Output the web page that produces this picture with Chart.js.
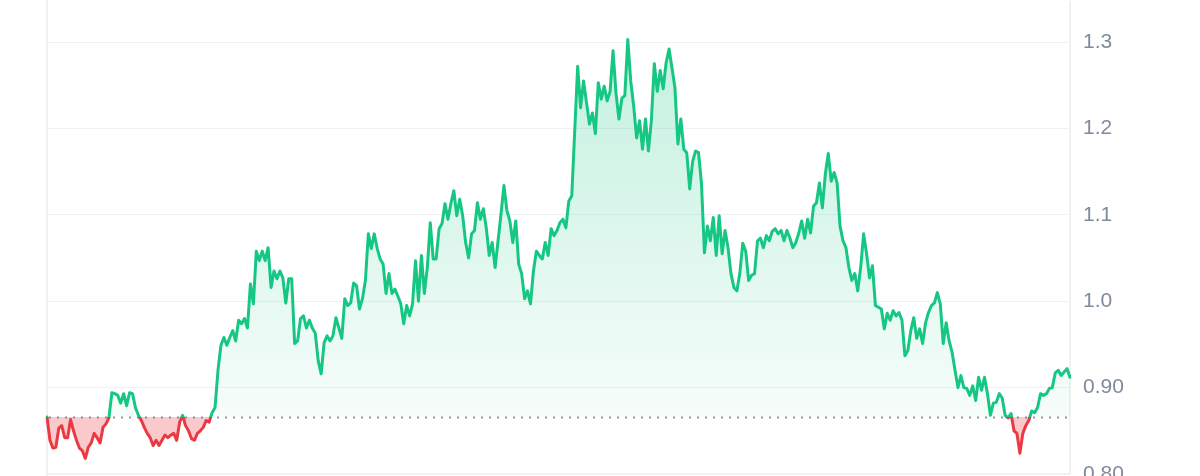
<!DOCTYPE html>
<html>
<head>
<meta charset="utf-8">
<script src="https://cdn.jsdelivr.net/npm/chart.js@4.4.1/dist/chart.umd.min.js"></script>
<style>
  html, body { margin: 0; padding: 0; background: #fff; }
</style>
</head>
<body>
<canvas id="priceChart" width="1200" height="476"></canvas>
<script>
// price history
const prices = [
  0.866, 0.839, 0.830, 0.831, 0.853, 0.856, 0.842, 0.842, 0.863, 0.850,
  0.839, 0.830, 0.827, 0.818, 0.831, 0.836, 0.847, 0.842, 0.836, 0.854,
  0.858, 0.865, 0.894, 0.893, 0.891, 0.882, 0.893, 0.879, 0.894, 0.893,
  0.877, 0.868, 0.862, 0.854, 0.847, 0.842, 0.833, 0.839, 0.833, 0.839,
  0.845, 0.842, 0.845, 0.847, 0.839, 0.860, 0.868, 0.856, 0.850, 0.841,
  0.839, 0.847, 0.850, 0.854, 0.862, 0.860, 0.871, 0.877, 0.920, 0.949,
  0.958, 0.949, 0.958, 0.966, 0.954, 0.978, 0.974, 0.980, 0.969, 1.020,
  0.997, 1.058, 1.047, 1.058, 1.047, 1.062, 1.016, 1.035, 1.026, 1.035,
  1.027, 0.998, 1.026, 1.026, 0.951, 0.954, 0.980,
  0.983, 0.969, 0.978, 0.969, 0.963, 0.931, 0.916, 0.952, 0.960, 0.954,
  0.960, 0.981, 0.969, 0.957, 1.003, 0.995, 0.998, 1.021, 1.018,
  0.991, 1.003, 1.024, 1.078, 1.061, 1.078, 1.061, 1.049, 1.043, 1.009,
  1.032, 1.009, 1.014, 1.006, 0.997, 0.974, 0.995, 0.983, 0.997, 1.047,
  1.000, 1.053, 1.009, 1.039, 1.091, 1.049, 1.049, 1.084, 1.090, 1.113,
  1.095, 1.113, 1.128, 1.099, 1.118, 1.099, 1.068, 1.050, 1.078, 1.082,
  1.114, 1.095, 1.107, 1.085, 1.053, 1.068, 1.039, 1.070, 1.101,
  1.134, 1.105, 1.093, 1.068, 1.093, 1.043, 1.032, 1.003, 1.012,
  0.997, 1.035, 1.058, 1.053, 1.049, 1.068, 1.053, 1.084, 1.076, 1.082,
  1.091,
  1.095, 1.085, 1.116, 1.122, 1.197, 1.272, 1.224, 1.255, 1.230,
  1.205, 1.218, 1.194, 1.253, 1.234, 1.249, 1.232, 1.243, 1.290, 1.241,
  1.211, 1.235, 1.238, 1.303, 1.255, 1.226, 1.189, 1.209,
  1.176, 1.211, 1.174, 1.209, 1.275, 1.243, 1.267, 1.246, 1.276,
  1.292, 1.270, 1.247, 1.182, 1.211, 1.176, 1.172, 1.130, 1.162, 1.174, 1.172,
  1.136, 1.056, 1.087, 1.070, 1.097, 1.053, 1.099, 1.055, 1.082, 1.062,
  1.032, 1.016, 1.012, 1.032, 1.067, 1.058, 1.024, 1.030, 1.032, 1.070,
  1.073, 1.062, 1.076, 1.070, 1.081, 1.084, 1.078, 1.082, 1.070, 1.082, 1.073, 1.062,
  1.068, 1.079, 1.093, 1.073, 1.095, 1.079, 1.110, 1.114, 1.137,
  1.108, 1.147, 1.171, 1.139, 1.149, 1.137, 1.087, 1.070, 1.062, 1.039,
  1.024, 1.032, 1.012, 1.039, 1.078, 1.055, 1.027, 1.041, 0.995, 0.993, 0.991,
  0.968, 0.986, 0.978, 0.989, 0.983, 0.987, 0.978, 0.937, 0.943, 0.966,
  0.981, 0.957, 0.968, 0.951, 0.975, 0.987, 0.995, 0.998, 1.010, 0.997,
  0.951, 0.975, 0.954, 0.941, 0.920, 0.900, 0.914, 0.900, 0.899, 0.891,
  0.902, 0.885, 0.912, 0.897, 0.912, 0.893, 0.868, 0.882, 0.883, 0.893,
  0.888, 0.868, 0.865, 0.870, 0.850, 0.847, 0.824, 0.847, 0.856, 0.862, 0.873,
  0.871, 0.877, 0.893, 0.891, 0.893, 0.899, 0.900, 0.917, 0.920, 0.914,
  0.918, 0.922, 0.912
];
const baseline = 0.866;  // opening price, dotted reference line
const tickValues = [0.8, 0.9, 1.0, 1.1, 1.2, 1.3];
const tickLabels = ['0.80', '0.90', '1.0', '1.1', '1.2', '1.3'];
const yMin = 0.8;
const yMax = 1.347;

const labels = prices.map((_, i) => i);

const GREEN = '#16c784';
const RED = '#ea3943';
const GRID = '#eff1f4';

// frame on the left and bottom of the plot
const frameLines = {
  id: 'frameLines',
  beforeDatasetsDraw(chart) {
    const { ctx, chartArea } = chart;
    ctx.save();
    ctx.strokeStyle = GRID;
    ctx.lineWidth = 2;
    ctx.beginPath();
    ctx.moveTo(chartArea.left, 0);
    ctx.lineTo(chartArea.left, chart.height);
    ctx.moveTo(chartArea.left, chartArea.bottom);
    ctx.lineTo(chartArea.right, chartArea.bottom);
    ctx.stroke();
    ctx.restore();
  }
};

// dotted line at the opening price
const baselineDots = {
  id: 'baselineDots',
  beforeDatasetsDraw(chart) {
    const { ctx, chartArea, scales } = chart;
    const y = Math.round(scales.y.getPixelForValue(baseline)) + 0.5;
    ctx.save();
    ctx.strokeStyle = '#8f96a3';
    ctx.lineWidth = 2;
    ctx.setLineDash([2, 6]);
    ctx.beginPath();
    ctx.moveTo(chartArea.left + 2, y);
    ctx.lineTo(chartArea.right, y);
    ctx.stroke();
    ctx.restore();
  }
};

const chart = new Chart(document.getElementById('priceChart'), {
  type: 'line',
  data: {
    labels: labels,
    datasets: [{
      data: prices,
      borderColor: GREEN,
      borderWidth: 3,
      borderJoinStyle: 'round',
      borderCapStyle: 'round',
      pointRadius: 0,
      tension: 0,
      fill: {
        target: { value: baseline },
        above: 'rgba(22,199,132,0.15)',
        below: 'rgba(234,57,67,0.27)'
      }
    }]
  },
  options: {
    responsive: false,
    animation: false,
    layout: { padding: { left: 47, right: 0, top: 0, bottom: 2 } },
    plugins: {
      legend: { display: false },
      tooltip: { enabled: false }
    },
    scales: {
      x: {
        display: false,
        offset: false
      },
      y: {
        position: 'right',
        min: yMin,
        max: yMax,
        afterBuildTicks(axis) {
          axis.ticks = tickValues.map(v => ({ value: v }));
        },
        afterFit(axis) {
          axis.width = 130;
          axis.paddingTop = 0;
          axis.paddingBottom = 0;
        },
        grid: {
          color: GRID,
          lineWidth: 1,
          drawTicks: false
        },
        border: { display: true, color: GRID, width: 2 },
        ticks: {
          padding: 13,
          color: '#808a9d',
          font: { family: "'Liberation Sans', Arial, sans-serif", size: 21 },
          callback: (value) => tickLabels[tickValues.indexOf(value)]
        }
      }
    }
  },
  plugins: [frameLines, baselineDots]
});

// gradients need the laid-out chart area
const area = chart.chartArea;
const yBase = chart.scales.y.getPixelForValue(baseline);
const yTop = chart.scales.y.getPixelForValue(Math.max(...prices));
const stop = (yBase - area.top) / (area.bottom - area.top);

const lineGrad = chart.ctx.createLinearGradient(0, area.top, 0, area.bottom);
lineGrad.addColorStop(0, GREEN);
lineGrad.addColorStop(stop, GREEN);
lineGrad.addColorStop(stop, RED);
lineGrad.addColorStop(1, RED);

const fillGrad = chart.ctx.createLinearGradient(0, yTop, 0, yBase);
fillGrad.addColorStop(0, 'rgba(22,199,132,0.26)');
fillGrad.addColorStop(1, 'rgba(22,199,132,0.04)');

chart.data.datasets[0].borderColor = lineGrad;
chart.data.datasets[0].fill.above = fillGrad;
chart.update('none');
</script>
</body>
</html>
